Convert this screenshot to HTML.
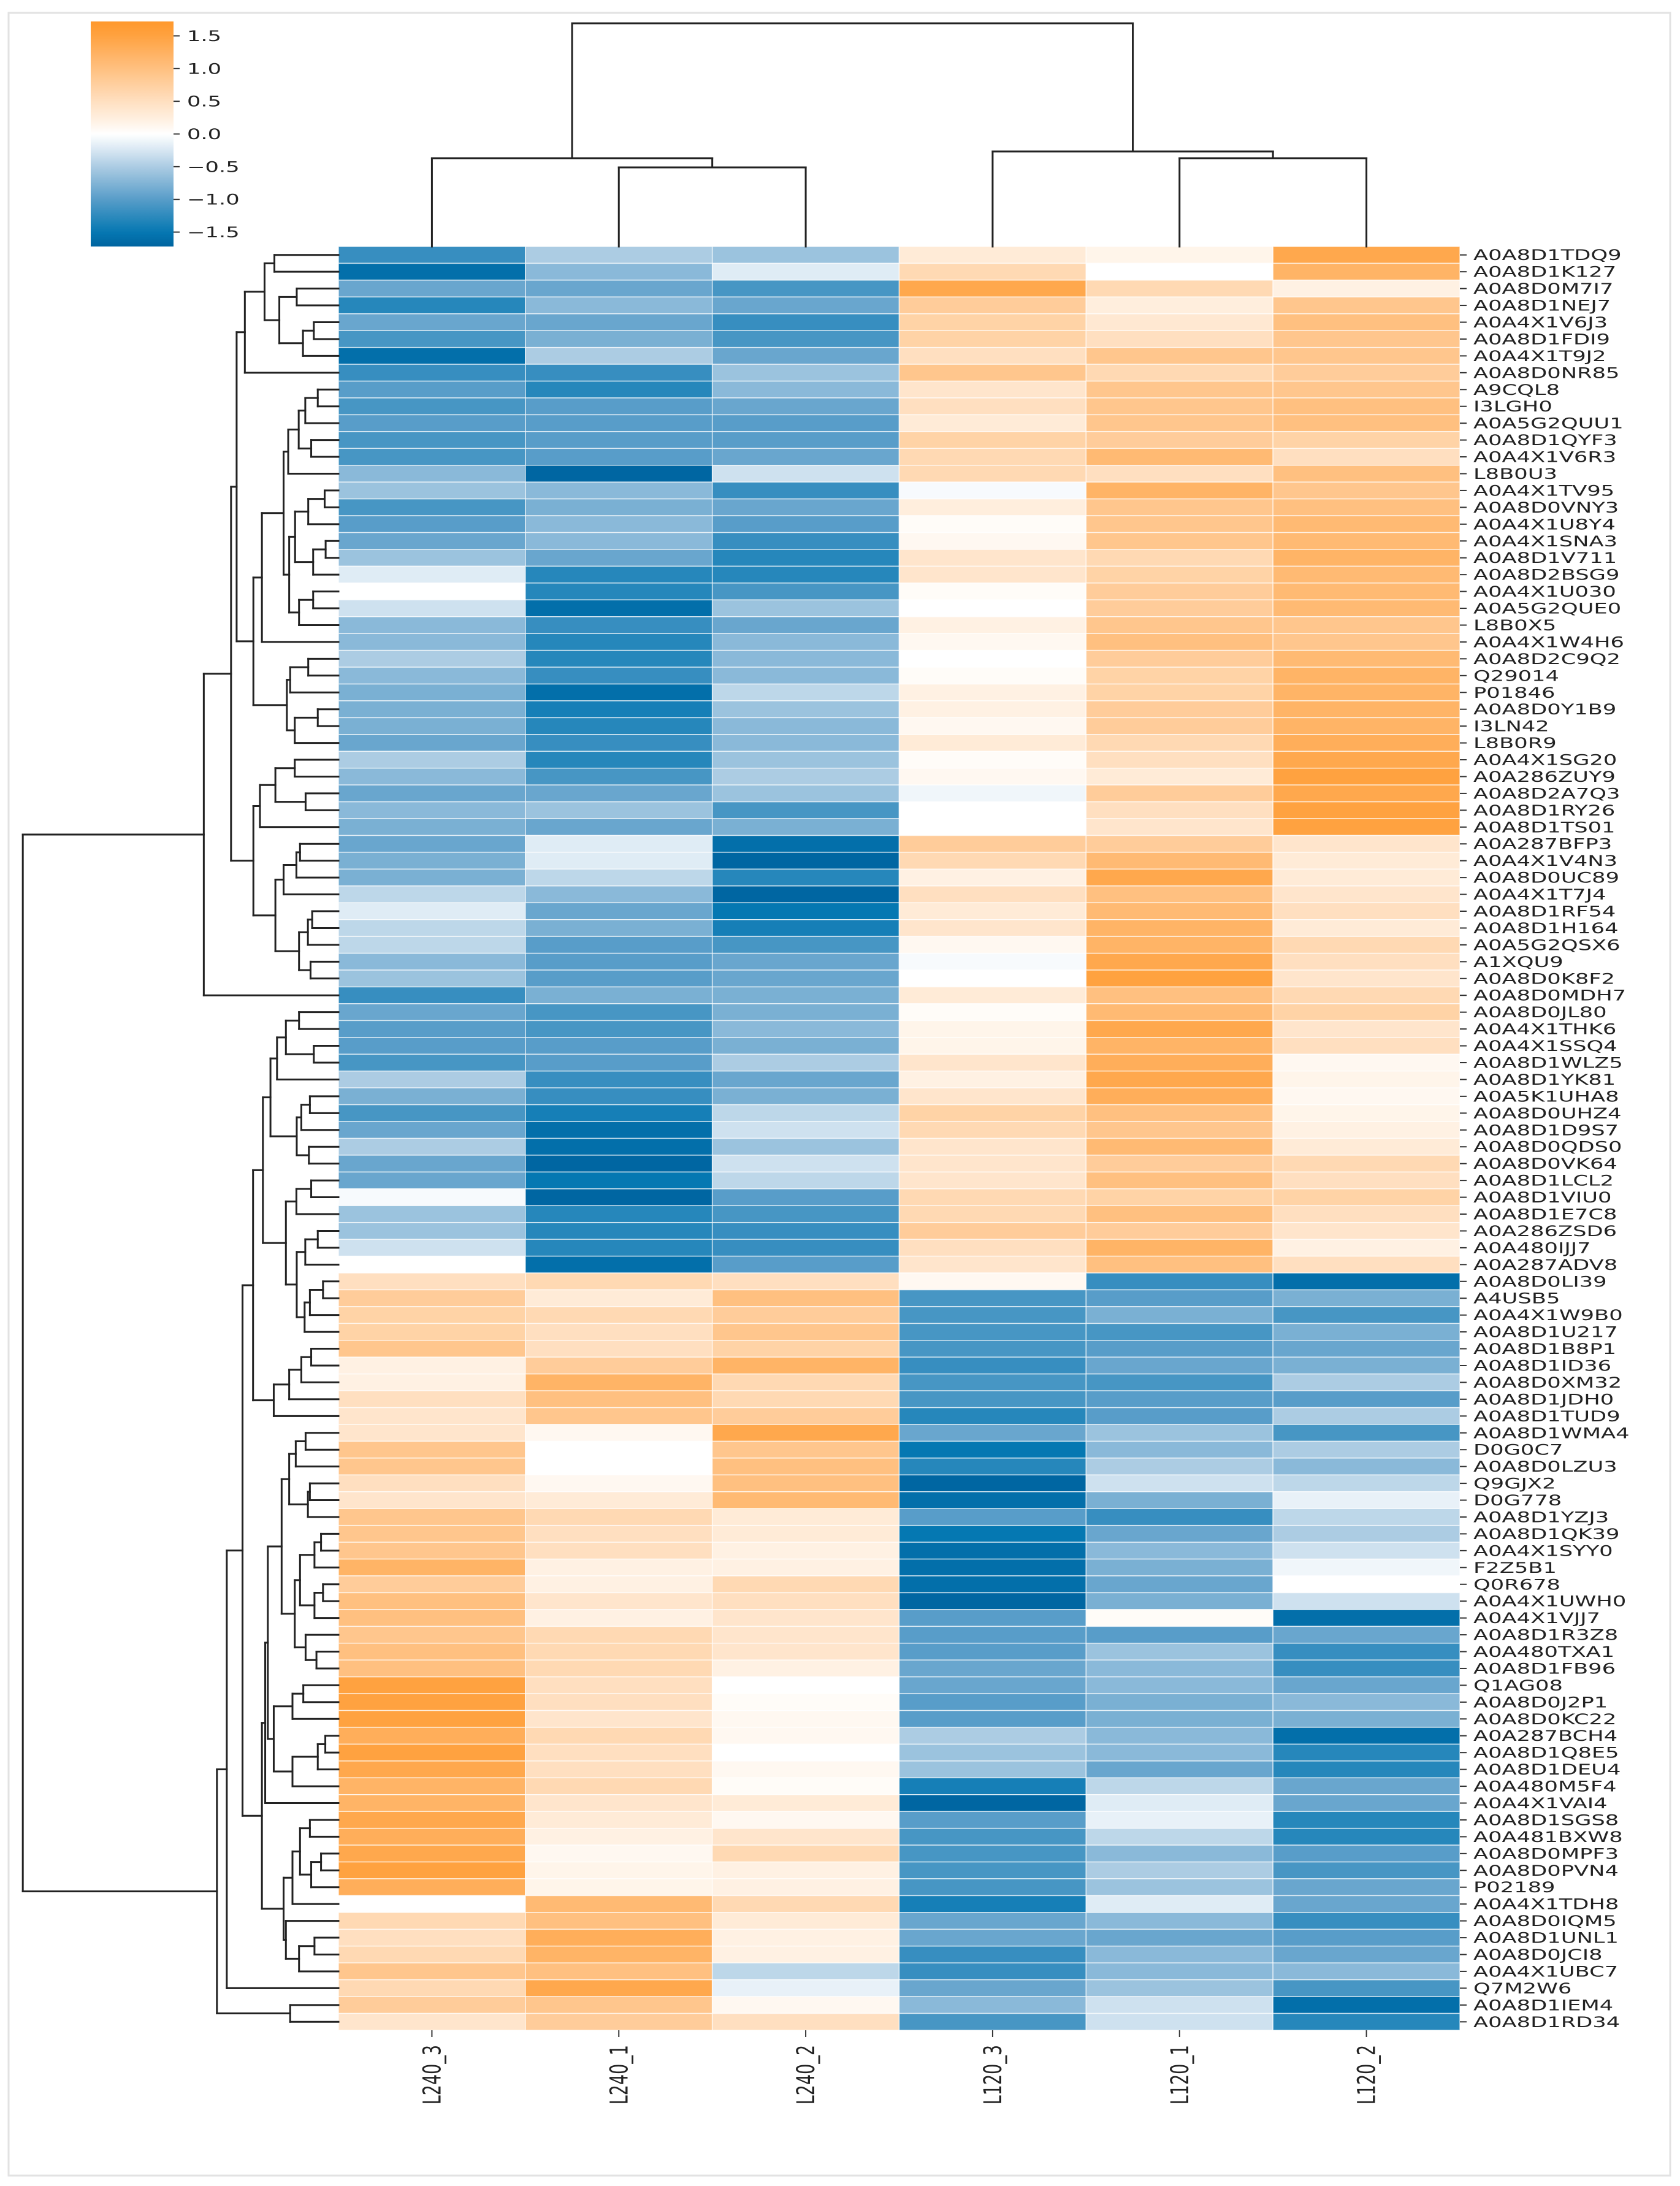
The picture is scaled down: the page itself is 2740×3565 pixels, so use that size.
<!DOCTYPE html>
<html><head><meta charset="utf-8"><style>
html,body{margin:0;padding:0;background:#fff;}
svg{display:block;}
text{font-family:"DejaVu Sans","Liberation Sans",sans-serif;fill:#222;}
</style></head>
<body>
<svg id="chart" width="2740" height="3565" viewBox="0 0 2740 3565" xmlns="http://www.w3.org/2000/svg">
<rect x="14" y="21" width="2710" height="3527" fill="#fff" stroke="#e2e2e2" stroke-width="3"/>
<defs><linearGradient id="cbgrad" x1="0" y1="1" x2="0" y2="0"></linearGradient></defs>
<g id="cells"></g>
<g id="rowdend"></g>
<g id="coldend"></g>
<g id="rowlabels"></g>
<g id="collabels"></g>
<g id="colorbar"></g>
</svg>
<script>
const rowLabels = ["A0A8D1TDQ9","A0A8D1K127","A0A8D0M7I7","A0A8D1NEJ7","A0A4X1V6J3","A0A8D1FDI9","A0A4X1T9J2","A0A8D0NR85","A9CQL8","I3LGH0","A0A5G2QUU1","A0A8D1QYF3","A0A4X1V6R3","L8B0U3","A0A4X1TV95","A0A8D0VNY3","A0A4X1U8Y4","A0A4X1SNA3","A0A8D1V711","A0A8D2BSG9","A0A4X1U030","A0A5G2QUE0","L8B0X5","A0A4X1W4H6","A0A8D2C9Q2","Q29014","P01846","A0A8D0Y1B9","I3LN42","L8B0R9","A0A4X1SG20","A0A286ZUY9","A0A8D2A7Q3","A0A8D1RY26","A0A8D1TS01","A0A287BFP3","A0A4X1V4N3","A0A8D0UC89","A0A4X1T7J4","A0A8D1RF54","A0A8D1H164","A0A5G2QSX6","A1XQU9","A0A8D0K8F2","A0A8D0MDH7","A0A8D0JL80","A0A4X1THK6","A0A4X1SSQ4","A0A8D1WLZ5","A0A8D1YK81","A0A5K1UHA8","A0A8D0UHZ4","A0A8D1D9S7","A0A8D0QDS0","A0A8D0VK64","A0A8D1LCL2","A0A8D1VIU0","A0A8D1E7C8","A0A286ZSD6","A0A480IJJ7","A0A287ADV8","A0A8D0LI39","A4USB5","A0A4X1W9B0","A0A8D1U217","A0A8D1B8P1","A0A8D1ID36","A0A8D0XM32","A0A8D1JDH0","A0A8D1TUD9","A0A8D1WMA4","D0G0C7","A0A8D0LZU3","Q9GJX2","D0G778","A0A8D1YZJ3","A0A8D1QK39","A0A4X1SYY0","F2Z5B1","Q0R678","A0A4X1UWH0","A0A4X1VJJ7","A0A8D1R3Z8","A0A480TXA1","A0A8D1FB96","Q1AG08","A0A8D0J2P1","A0A8D0KC22","A0A287BCH4","A0A8D1Q8E5","A0A8D1DEU4","A0A480M5F4","A0A4X1VAI4","A0A8D1SGS8","A0A481BXW8","A0A8D0MPF3","A0A8D0PVN4","P02189","A0A4X1TDH8","A0A8D0IQM5","A0A8D1UNL1","A0A8D0JCI8","A0A4X1UBC7","Q7M2W6","A0A8D1IEM4","A0A8D1RD34"];
const colLabels = ["L240_3","L240_1","L240_2","L120_3","L120_1","L120_2"];
const cbTicks = [-1.5,-1.0,-0.5,0.0,0.5,1.0,1.5];
const values = [
[-1.2,-0.5,-0.6,0.3,0.15,1.4],[-1.6,-0.7,-0.2,0.6,0,1.2],[-0.9,-0.9,-1.1,1.4,0.6,0.2],[-1.3,-0.7,-0.9,0.8,0.25,0.9],
[-0.9,-0.9,-1.2,0.7,0.35,1.0],[-1.1,-0.8,-1.1,0.7,0.5,0.9],[-1.6,-0.5,-0.9,0.5,0.9,0.9],[-1.2,-1.2,-0.6,0.9,0.6,0.8],
[-1.0,-1.3,-0.7,0.4,0.9,0.9],[-1.1,-1.0,-0.9,0.5,0.9,1.0],[-1.0,-1.0,-1.0,0.3,0.9,1.0],[-1.1,-1.0,-1.0,0.7,0.8,0.7],
[-1.1,-1.0,-0.9,0.6,1.1,0.5],[-0.7,-1.7,-0.3,0.6,0.5,1.0],[-0.6,-0.7,-1.2,-0.05,1.2,0.9],[-1.1,-0.8,-0.9,0.25,0.9,1.0],
[-1.0,-0.7,-1.0,0.05,0.9,1.1],[-0.9,-0.7,-1.2,0.1,0.9,1.1],[-0.6,-0.9,-1.3,0.4,0.6,1.2],[-0.2,-1.3,-1.3,0.4,0.7,1.1],
[0.0,-1.3,-1.1,0.05,0.8,1.1],[-0.3,-1.6,-0.6,0.0,0.8,1.1],[-0.7,-1.2,-0.9,0.2,0.9,0.9],[-0.7,-1.3,-0.7,0.1,1.0,0.9],
[-0.5,-1.3,-0.7,0.0,0.8,1.1],[-0.7,-1.2,-0.7,0.05,0.7,1.2],[-0.8,-1.6,-0.4,0.2,0.7,1.2],[-0.8,-1.4,-0.6,0.2,0.8,1.2],
[-0.8,-1.3,-0.7,0.1,0.8,1.2],[-0.9,-1.2,-0.7,0.3,0.6,1.3],[-0.5,-1.3,-0.6,0.05,0.5,1.4],[-0.7,-1.1,-0.5,0.1,0.3,1.5],
[-0.9,-0.9,-0.6,-0.1,0.8,1.4],[-0.7,-0.6,-1.1,0.0,0.5,1.5],[-0.8,-0.9,-0.8,0.0,0.4,1.5],[-0.9,-0.2,-1.6,0.8,0.8,0.4],
[-0.8,-0.2,-1.7,0.6,1.1,0.3],[-0.8,-0.4,-1.3,0.2,1.4,0.3],[-0.4,-0.7,-1.7,0.5,1.0,0.4],[-0.2,-0.9,-1.5,0.3,1.1,0.5],
[-0.4,-0.8,-1.4,0.4,1.2,0.3],[-0.4,-1.0,-1.1,0.1,1.2,0.6],[-0.7,-1.0,-0.9,-0.05,1.4,0.5],[-0.6,-1.0,-0.9,0.0,1.5,0.4],
[-1.2,-0.8,-0.8,0.3,1.0,0.6],[-0.9,-1.1,-0.8,0.05,1.1,0.7],[-1.0,-1.1,-0.7,0.15,1.4,0.4],[-1.0,-1.0,-0.8,0.15,1.2,0.5],
[-1.1,-1.0,-0.5,0.4,1.3,0.1],[-0.5,-1.2,-0.9,0.2,1.4,0.15],[-0.8,-1.2,-0.8,0.4,1.3,0.1],[-1.1,-1.4,-0.4,0.7,1.0,0.15],
[-0.9,-1.6,-0.3,0.6,0.9,0.2],[-0.5,-1.6,-0.6,0.4,1.1,0.3],[-0.9,-1.7,-0.3,0.4,0.8,0.6],[-0.9,-1.5,-0.4,0.4,1.0,0.5],
[-0.05,-1.7,-1.0,0.6,0.7,0.7],[-0.6,-1.3,-1.1,0.6,1.0,0.5],[-0.6,-1.3,-1.2,0.8,0.8,0.4],[-0.3,-1.3,-1.2,0.5,1.2,0.2],
[0.0,-1.6,-1.0,0.4,1.0,0.5],[0.5,0.6,0.5,0.1,-1.2,-1.6],[0.8,0.3,1.0,-1.1,-1.0,-0.8],[0.7,0.6,0.8,-1.1,-0.8,-1.1],
[0.7,0.5,0.9,-1.1,-1.1,-0.8],[0.9,0.5,0.7,-1.1,-1.0,-0.9],[0.2,0.8,1.2,-1.2,-0.9,-0.8],[0.2,1.2,0.6,-1.1,-1.1,-0.5],
[0.5,1.0,0.6,-1.1,-1.0,-1.0],[0.4,0.9,0.8,-1.3,-1.0,-0.5],[0.4,0.1,1.4,-0.9,-0.6,-1.1],[0.9,0.0,0.9,-1.5,-0.7,-0.5],
[0.9,0.0,1.0,-1.3,-0.5,-0.7],[0.5,0.1,1.0,-1.7,-0.3,-0.4],[0.4,0.3,1.1,-1.6,-0.8,-0.15],[0.9,0.6,0.3,-1.0,-1.2,-0.4],
[0.9,0.5,0.3,-1.5,-0.9,-0.5],[0.9,0.5,0.2,-1.6,-0.7,-0.3],[1.2,0.2,0.2,-1.6,-0.8,-0.1],[0.8,0.2,0.6,-1.6,-0.9,0.0],
[1.0,0.4,0.5,-1.7,-0.8,-0.3],[1.0,0.2,0.4,-1.0,0.05,-1.6],[0.9,0.6,0.4,-1.0,-1.0,-0.9],[1.0,0.6,0.4,-1.0,-0.6,-1.2],
[1.0,0.6,0.2,-0.9,-0.7,-1.2],[1.5,0.5,0.0,-0.9,-0.7,-0.9],[1.5,0.5,0.05,-1.0,-0.8,-0.7],[1.5,0.4,0.1,-1.0,-0.8,-0.8],
[1.3,0.6,0.1,-0.5,-0.7,-1.6],[1.5,0.5,0.0,-0.6,-0.7,-1.3],[1.4,0.5,0.1,-0.6,-0.9,-1.3],[1.2,0.6,0.05,-1.4,-0.4,-0.9],
[1.2,0.4,0.3,-1.7,-0.2,-0.9],[1.4,0.3,0.1,-1.0,-0.15,-1.3],[1.3,0.2,0.4,-1.1,-0.4,-1.3],[1.4,0.1,0.6,-1.1,-0.7,-1.0],
[1.5,0.15,0.2,-1.1,-0.5,-1.1],[1.3,0.15,0.2,-1.1,-0.6,-0.9],[0.0,1.1,0.6,-1.4,-0.2,-0.9],[0.6,1.0,0.3,-0.9,-0.7,-1.2],
[0.5,1.3,0.2,-0.9,-0.9,-1.0],[0.6,1.2,0.2,-1.2,-0.7,-0.9],[0.9,1.0,-0.4,-1.2,-0.7,-0.7],[0.6,1.4,-0.15,-0.9,-0.6,-1.1],
[0.8,0.9,0.1,-0.7,-0.3,-1.6],[0.4,0.8,0.5,-1.1,-0.3,-1.3]
];
function N(h,l,r){return {h:h,l:l,r:r};}
const G_=N(28.5,N(22.5,N(19.5,0,1),N(18,N(12.7,2,3),N(10.8,N(7.5,4,5),6))),7);
const H3=N(15.3,N(12.1,N(10.1,N(6.3,8,9),10),N(8.3,11,12)),13);
const I_=N(15,N(13.2,N(9.2,N(4.2,14,15),16),N(7.7,N(3.9,17,18),19)),N(12,N(7.7,20,21),22));
const J_=N(15.7,N(14.7,N(9.2,24,25),26),N(13.3,N(6.3,27,28),29));
const M_=N(25.9,N(23.3,N(16.7,H3,I_),23),J_);
const K_=N(25.9,N(23.9,N(19.2,N(13.3,30,31),N(10,32,33)),34),N(19.2,N(16.7,N(12.8,N(11.7,35,36),37),38),N(12,N(9.3,N(8,39,40),41),N(8.5,42,43))));
const Q_=N(41,N(32.7,N(31,G_,M_),K_),44);
const S_=N(26,N(23,N(20.7,N(18.7,N(16,N(12,45,46),N(7.5,47,48)),49),N(12.7,N(11.3,N(8.7,50,51),52),N(9,53,54))),N(16,N(12.8,N(8.3,55,56),57),N(12.7,N(10.1,N(6.3,58,59),60),N(10.3,N(8.7,N(4.7,61,62),63),64)))),N(19.7,N(15,N(11.3,N(8.3,65,66),67),68),69));
const T12=N(17.3,N(15,N(13,N(10,70,71),72),N(9.3,N(8.7,73,74),75)),N(13.3,N(11.7,N(7.3,N(5.3,76,77),78),N(7.3,N(4.7,79,80),81)),N(10,82,N(6.7,83,84))));
const T3=N(19.7,N(14,N(10.7,85,86),87),N(14,N(6.3,N(4,88,89),90),91));
const T4=N(16.7,N(14,N(11.7,N(8.7,93,94),N(8.3,N(5.3,95,96),97)),98),N(16,99,N(12,N(7.3,100,101),102)));
const W_=N(37,N(34,N(29.2,S_,N(23.3,N(22.3,N(21.5,T12,T3),92),T4)),103),N(14.7,104,105));
const rowTree=N(96.1,Q_,W_);
const colTree=N(364,N(144,0,N(129,1,2)),N(155,3,N(144,4,5)));

const NS="http://www.w3.org/2000/svg";
const X0=552,X1=2381,Y0=402,Y1=3311;
const nR=rowLabels.length,nC=colLabels.length;
const rowH=(Y1-Y0)/nR,colW=(X1-X0)/nC;
const yRow=r=>Y0+(r+0.5)*rowH;
const xCol=c=>X0+(c+0.5)*colW;
const xDend=d=>X0-d*5.357;
const yDend=d=>Y0-d;
const cstops=[[-1.72,[0,100,160]],[-1.5,[5,120,178]],[-1.0,[88,157,201]],[-0.5,[172,204,227]],[-0.15,[232,241,248]],[0,[255,255,255]],[0.2,[255,241,227]],[0.5,[255,223,192]],[1.0,[255,192,128]],[1.5,[255,162,64]],[1.72,[255,152,44]]];
function cmap(v){v=Math.max(-1.72,Math.min(1.72,v));for(let i=1;i<cstops.length;i++){if(v<=cstops[i][0]){const a=cstops[i-1],b=cstops[i],t=(v-a[0])/(b[0]-a[0]);const c=a[1].map((x,k)=>Math.round(x+(b[1][k]-x)*t));return `rgb(${c[0]},${c[1]},${c[2]})`;}}return "rgb(255,152,44)";}
function mk(tag,attrs,parent){const e=document.createElementNS(NS,tag);for(const k in attrs)e.setAttribute(k,attrs[k]);parent.appendChild(e);return e;}

const cells=document.getElementById('cells');
values.forEach((row,r)=>row.forEach((v,c)=>{
  const e=mk('rect',{x:X0+c*colW,y:Y0+r*rowH,width:colW,height:rowH,fill:cmap(v),stroke:'rgba(255,255,255,0.7)','stroke-width':1.5},cells);
  
  
}));

function line(g,x1,y1,x2,y2,name){const e=mk('line',{x1:x1,y1:y1,x2:x2,y2:y2,stroke:'#222','stroke-width':3,'stroke-linecap':'square'},g);
  
  }
const rd=document.getElementById('rowdend');
function drawRow(n){
  if(typeof n==='number')return {p:yRow(n),x:X0};
  const a=drawRow(n.l),b=drawRow(n.r),x=xDend(n.h);
  line(rd,x,a.p,x,b.p,'row-dendrogram-link');
  line(rd,x,a.p,a.x,a.p,'row-dendrogram-link');
  line(rd,x,b.p,b.x,b.p,'row-dendrogram-link');
  return {p:(a.p+b.p)/2,x:x};
}
drawRow(rowTree);
const cd=document.getElementById('coldend');
function drawCol(n){
  if(typeof n==='number')return {p:xCol(n),y:Y0};
  const a=drawCol(n.l),b=drawCol(n.r),y=yDend(n.h);
  line(cd,a.p,y,b.p,y,'column-dendrogram-link');
  line(cd,a.p,y,a.p,a.y,'column-dendrogram-link');
  line(cd,b.p,y,b.p,b.y,'column-dendrogram-link');
  return {p:(a.p+b.p)/2,y:y};
}
drawCol(colTree);

const rl=document.getElementById('rowlabels');
rowLabels.forEach((s,r)=>{
  const y=yRow(r);
  const tk=mk('line',{x1:X1,y1:y,x2:X1+11,y2:y,stroke:'#333','stroke-width':2},rl);
  
  
  const t=mk('text',{transform:`translate(2403,${y+8.5}) scale(1.47,1)`,'font-size':24},rl);
  t.textContent=s;
  
  
});
const cl=document.getElementById('collabels');
colLabels.forEach((s,c)=>{
  const x=xCol(c);
  const tk=mk('line',{x1:x,y1:Y1,x2:x,y2:Y1+11,stroke:'#333','stroke-width':2},cl);
  
  
  const t=mk('text',{transform:`translate(${x+14},3335) scale(1.47,1) rotate(-90)`,'font-size':27,'text-anchor':'end'},cl);
  t.textContent=s;
  
  
});

const grad=document.getElementById('cbgrad');
for(let i=0;i<=34;i++){const v=-1.72+i*3.44/34;mk('stop',{offset:(i/34),'stop-color':cmap(v)},grad);}
const cb=document.getElementById('colorbar');
const CBX=148,CBW=135,CBT=35,CBB=402;
const yCb=v=>CBT+(1.72-v)/3.44*(CBB-CBT);
const cbr=mk('rect',{x:CBX,y:CBT,width:CBW,height:CBB-CBT,fill:'url(#cbgrad)'},cb);


cbTicks.forEach(v=>{
  const y=yCb(v);
  const tk=mk('line',{x1:CBX+CBW,y1:y,x2:CBX+CBW+10,y2:y,stroke:'#333','stroke-width':2},cb);
  
  
  const t=mk('text',{transform:`translate(305,${y+8.5}) scale(1.47,1)`,'font-size':24},cb);
  t.textContent=(v<0?'\u2212':'')+Math.abs(v).toFixed(1);
  
  
});
</script>
</body></html>
